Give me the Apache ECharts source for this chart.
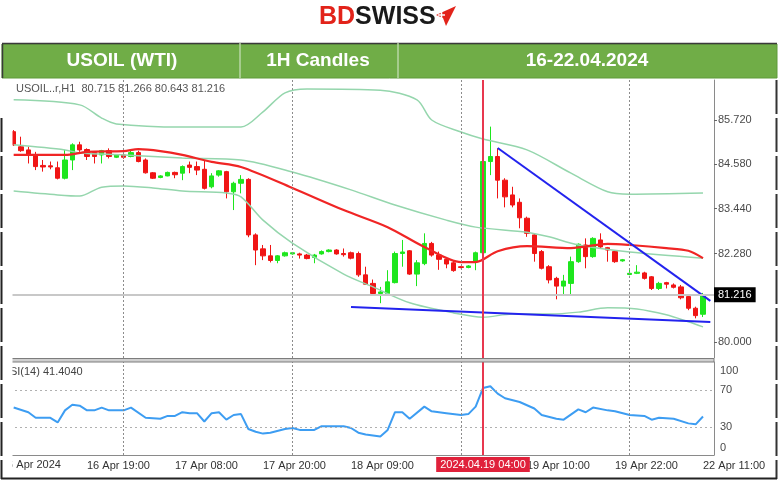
<!DOCTYPE html>
<html>
<head>
<meta charset="utf-8">
<title>USOIL (WTI) 1H Candles</title>
<script src="https://cdn.jsdelivr.net/npm/echarts@6/dist/echarts.min.js"></script>
<style>
  html, body { margin: 0; padding: 0; background: #fff; }
  #chart { width: 780px; height: 482px; }
</style>
</head>
<body>
<div id="chart"></div>
<script>
// trading sessions shown on the chart (date, first hour, last hour)
const tradingDays = [
  ['2024.04.16', 9, 23],
  ['2024.04.17', 1, 23],
  ['2024.04.18', 1, 23],
  ['2024.04.19', 1, 23],
  ['2024.04.22', 1, 11]
];

// hourly candles
const opens = [
  85.42, 85.03, 84.95, 84.82, 84.55, 84.54, 84.49, 84.22, 84.69, 85.08,
  84.96, 84.88, 84.82, 84.93, 84.76, 84.82, 84.78, 84.88, 84.69, 84.36,
  84.24, 84.28, 84.37, 84.35, 84.56, 84.52, 84.45, 84.00, 84.30, 84.39,
  83.87, 84.09, 84.19, 82.76, 82.40, 82.22, 82.10, 82.22, 82.27, 82.27,
  82.24, 82.18, 82.27, 82.33, 82.37, 82.28, 82.30, 82.28, 81.73, 81.51,
  81.25, 81.25, 81.53, 82.28, 82.35, 81.75, 82.02, 82.54, 82.24, 82.13,
  82.04, 81.94, 81.92, 82.07, 82.30, 84.65, 84.78, 84.17, 83.79, 83.60,
  83.19, 82.76, 82.33, 81.94, 81.64, 81.44, 81.51, 82.07, 82.50, 82.20,
  82.63, 82.43, 82.33, 82.09, 81.74, 81.77, 81.78, 81.68, 81.38, 81.53,
  81.47, 81.42, 81.17, 80.87, 80.715
];
const closes = [
  85.08, 84.93, 84.82, 84.52, 84.51, 84.51, 84.22, 84.69, 85.08, 84.95,
  84.78, 84.78, 84.93, 84.78, 84.82, 84.76, 84.88, 84.65, 84.36, 84.22,
  84.28, 84.37, 84.31, 84.52, 84.50, 84.43, 83.96, 84.28, 84.41, 83.87,
  84.09, 84.19, 82.76, 82.37, 82.22, 82.10, 82.22, 82.30, 82.30, 82.24,
  82.15, 82.24, 82.33, 82.37, 82.27, 82.25, 82.16, 81.73, 81.49, 81.25,
  81.29, 81.55, 82.28, 82.32, 81.75, 82.04, 82.54, 82.24, 82.13, 82.01,
  81.84, 81.92, 81.96, 82.30, 84.65, 84.78, 84.17, 83.74, 83.53, 83.20,
  82.80, 82.28, 81.90, 81.60, 81.44, 81.57, 82.07, 82.52, 82.20, 82.67,
  82.45, 82.37, 82.07, 82.12, 81.77, 81.80, 81.64, 81.38, 81.51, 81.49,
  81.41, 81.14, 80.87, 80.68, 81.216
];
const lows = [
  85.05, 84.90, 84.60, 84.43, 84.39, 84.45, 84.19, 84.19, 84.43, 84.90,
  84.69, 84.60, 84.60, 84.73, 84.74, 84.72, 84.76, 84.63, 84.34, 84.20,
  84.22, 84.27, 84.22, 84.17, 84.35, 84.30, 83.93, 83.96, 84.26, 83.70,
  83.40, 83.83, 82.70, 81.98, 82.11, 82.05, 82.03, 82.20, 82.25, 82.15,
  82.13, 82.03, 82.25, 82.31, 82.25, 82.20, 82.13, 81.68, 81.47, 81.21,
  81.00, 81.24, 81.51, 81.94, 81.73, 81.44, 81.98, 82.20, 81.86, 81.90,
  81.81, 81.90, 81.90, 81.85, 82.25, 84.30, 83.70, 83.47, 83.47, 82.93,
  82.71, 82.07, 81.87, 81.51, 81.10, 81.21, 81.21, 82.04, 81.90, 82.17,
  82.41, 82.07, 82.04, 82.07, 81.72, 81.75, 81.61, 81.34, 81.34, 81.38,
  81.38, 81.10, 80.82, 80.61, 80.643
];
const highs = [
  85.46, 85.29, 85.03, 84.90, 84.69, 84.65, 84.65, 84.95, 85.12, 85.16,
  84.99, 84.90, 84.95, 84.99, 84.83, 84.86, 84.93, 84.93, 84.73, 84.38,
  84.30, 84.39, 84.39, 84.55, 84.65, 84.65, 84.69, 84.35, 84.43, 84.41,
  84.13, 84.30, 84.22, 82.80, 82.50, 82.50, 82.24, 82.33, 82.32, 82.30,
  82.27, 82.27, 82.36, 82.39, 82.39, 82.41, 82.33, 82.33, 81.94, 81.61,
  81.42, 81.85, 82.33, 82.63, 82.37, 82.11, 82.80, 82.58, 82.33, 82.15,
  82.11, 81.96, 81.98, 82.33, 84.70, 85.55, 84.99, 84.22, 84.00, 83.70,
  83.23, 82.80, 82.37, 81.98, 81.68, 81.73, 82.20, 82.54, 82.67, 82.70,
  82.80, 82.45, 82.37, 82.14, 81.88, 81.98, 81.81, 81.70, 81.55, 81.55,
  81.51, 81.47, 81.21, 80.91, 81.266
];

// indicator lines, [bar index, price] points
const upperBand = [
  [0, 86.24], [9, 86.11], [12, 85.77], [14, 85.62], [23, 85.54], [31, 85.54],
  [34, 85.93], [37, 86.42], [40, 86.52], [50, 86.49], [55, 86.24], [57, 85.72],
  [61, 85.41], [64, 85.23], [70, 84.95], [76, 84.35], [81, 83.87], [84, 83.81], [94, 83.84]
];
const middleBand = [
  [0, 85.08], [7, 84.95], [9, 84.87], [15, 84.82], [23, 84.74], [31, 84.69],
  [38, 84.38], [46, 83.92], [52, 83.53], [59, 83.14], [63, 82.96], [70, 82.83],
  [73, 82.71], [77, 82.50], [84, 82.32], [94, 82.16]
];
const lowerBand = [
  [0, 83.89], [6, 83.79], [9, 83.76], [12, 83.99], [15, 84.02], [19, 83.97],
  [23, 83.89], [29, 83.84], [31, 83.74], [34, 83.14], [38, 82.55], [45, 81.75],
  [49, 81.42], [54, 81.01], [60, 80.75], [64, 80.64], [68, 80.72], [73, 80.72],
  [77, 80.77], [81, 80.88], [85, 80.85], [89, 80.70], [92, 80.52], [94, 80.39]
];
const movingAvg = [
  [0, 84.82], [7, 84.82], [10, 84.90], [15, 84.92], [17, 84.97], [20, 84.92],
  [23, 84.82], [27, 84.64], [31, 84.51], [38, 83.97], [45, 83.40], [51, 82.96],
  [56, 82.45], [61, 82.06], [63, 82.06], [66, 82.34], [70, 82.47], [76, 82.42],
  [81, 82.53], [84, 82.50], [89, 82.42], [92, 82.35], [94, 82.16]
];
const rsiPoints = [
  [0, 51], [2, 46], [3, 40], [5, 40], [6, 35], [7, 48], [8, 54], [9, 53], [10, 48],
  [11, 48], [12, 51], [13, 48], [15, 48], [16, 51], [18, 40], [20, 39], [21, 42],
  [22, 42], [23, 46], [24, 45], [25, 45], [26, 36], [27, 45], [28, 46], [29, 38],
  [30, 43], [31, 44], [32, 28], [33, 25], [34, 23], [35, 24], [37, 28], [38, 29],
  [39, 27], [41, 27], [42, 31], [45, 31], [46, 29], [47, 24], [48, 22], [50, 20],
  [51, 27], [52, 46], [53, 46], [54, 39], [56, 52], [57, 47], [59, 45], [61, 43],
  [62, 44], [63, 52], [64, 72], [65, 74], [66, 66], [67, 61], [69, 57], [71, 50],
  [72, 43], [74, 39], [75, 38], [77, 49], [78, 46], [79, 51], [81, 48], [82, 47],
  [84, 43], [86, 42], [87, 38], [88, 40], [90, 39], [92, 34], [93, 33], [94, 41.4]
];

// hand drawn trend lines
const resistanceLine = [[66, 85.00], [95, 81.06]];
const supportLine = [[46, 80.90], [95, 80.515]];

const priceTicks = [80.0, 82.28, 83.44, 84.58, 85.72];
const rsiTicks = [0, 30, 70, 100];
const timeTickIdx = [10, 22, 34, 46, 70, 82, 94];
const timeTickText = ['16 Apr 19:00', '17 Apr 08:00', '17 Apr 20:00', '18 Apr 09:00',
  '19 Apr 10:00', '19 Apr 22:00', '22 Apr 11:00'];
const separatorIdx = [15, 38, 61, 84];
const cursorIdx = 64;
const lastPrice = 81.216;

const cats = [];
tradingDays.forEach(function (d) {
  for (let h = d[1]; h <= d[2]; h++) cats.push(d[0] + ' ' + String(h).padStart(2, '0') + ':00');
});
cats.push('');

const candles = opens.map(function (o, i) { return [o, closes[i], lows[i], highs[i]]; });

const FONT = '"Liberation Sans", Arial, sans-serif';
const dotted = { color: '#8c8c8c', width: 1, type: [2, 2] };
const sepLines = separatorIdx.map(function (i) { return { xAxis: cats[i], lineStyle: dotted }; });

function bandSeries(data, color, width) {
  return {
    type: 'line', xAxisIndex: 0, yAxisIndex: 0, data: data,
    showSymbol: false, smooth: 0.3, silent: true,
    lineStyle: { color: color, width: width }
  };
}

const chart = echarts.init(document.getElementById('chart'));
chart.setOption({
  animation: false,
  backgroundColor: '#fff',
  grid: [
    { left: 10, right: 66, top: 80, height: 278 },
    { left: 10, right: 66, top: 362, height: 93 }
  ],
  xAxis: [
    { type: 'category', gridIndex: 0, data: cats,
      axisLine: { show: false }, axisTick: { show: false }, axisLabel: { show: false } },
    { type: 'category', gridIndex: 1, data: cats,
      axisLine: { lineStyle: { color: '#8a8a8a' } },
      axisTick: { alignWithLabel: true, length: 4, lineStyle: { color: '#666' },
        interval: function (i) { return timeTickIdx.indexOf(i) >= 0; } },
      axisLabel: {
        interval: function (i) { return timeTickIdx.indexOf(i) >= 0; },
        formatter: function (v, i) { return timeTickText[timeTickIdx.indexOf(i)] || ''; },
        align: 'left', margin: 5, color: '#333', fontSize: 11, fontFamily: FONT
      } }
  ],
  yAxis: [
    { type: 'value', gridIndex: 0, position: 'right', min: 79.588, max: 86.751,
      axisLine: { show: true, lineStyle: { color: '#8a8a8a' } },
      axisTick: { show: true, length: 3, customValues: priceTicks, lineStyle: { color: '#666' } },
      axisLabel: { customValues: priceTicks, formatter: function (v) { return v.toFixed(3); },
        color: '#4a4a4a', fontSize: 11, margin: 4, fontFamily: FONT },
      splitLine: { show: false } },
    { type: 'value', gridIndex: 1, position: 'right', min: 0, max: 100,
      axisLine: { show: true, lineStyle: { color: '#8a8a8a' } },
      axisTick: { show: false },
      axisLabel: { customValues: rsiTicks, margin: 6, color: '#4a4a4a', fontSize: 11, fontFamily: FONT,
        formatter: function (v) {
          if (v === 100) return '{t|100}';
          if (v === 0) return '{b|0}';
          return String(v);
        },
        rich: {
          t: { padding: [18, 0, 0, 0], color: '#4a4a4a', fontSize: 11, fontFamily: FONT },
          b: { padding: [0, 0, 14, 0], color: '#4a4a4a', fontSize: 11, fontFamily: FONT }
        } },
      splitLine: { show: false } }
  ],
  series: [
    {
      type: 'candlestick', xAxisIndex: 0, yAxisIndex: 0, data: candles, barWidth: 5,
      itemStyle: { color: '#1ee61e', color0: '#f01515', borderColor: '#1ee61e', borderColor0: '#f01515', borderWidth: 1 },
      markLine: {
        symbol: ['none', 'none'], silent: true, animation: false, label: { show: false },
        data: sepLines.concat([
          { yAxis: lastPrice, lineStyle: { color: '#c8c8c8', width: 2, type: 'solid' },
            label: { show: true, position: 'end', distance: 0, formatter: '81.216',
              backgroundColor: '#000', color: '#fff', padding: [2, 4], fontSize: 11, fontFamily: FONT } },
          { xAxis: cats[cursorIdx], lineStyle: { color: '#e8384f', width: 2, type: 'solid' } }
        ])
      }
    },
    bandSeries(upperBand, '#95d6ad', 1.5),
    bandSeries(middleBand, '#95d6ad', 1.5),
    bandSeries(lowerBand, '#95d6ad', 1.5),
    bandSeries(movingAvg, '#f02525', 2.2),
    { type: 'line', xAxisIndex: 0, yAxisIndex: 0, data: resistanceLine, showSymbol: false, silent: true,
      lineStyle: { color: '#2323ee', width: 2 } },
    { type: 'line', xAxisIndex: 0, yAxisIndex: 0, data: supportLine, showSymbol: false, silent: true,
      lineStyle: { color: '#2323ee', width: 2 } },
    {
      type: 'line', xAxisIndex: 1, yAxisIndex: 1, data: rsiPoints, showSymbol: false, silent: true,
      lineStyle: { color: '#3d9df2', width: 2 },
      markLine: {
        symbol: ['none', 'none'], silent: true, animation: false, label: { show: false },
        data: sepLines.concat([
          { yAxis: 70, lineStyle: { color: '#b0b0b0', width: 1, type: [2, 3] } },
          { yAxis: 30, lineStyle: { color: '#b0b0b0', width: 1, type: [2, 3] } },
          { xAxis: cats[cursorIdx], lineStyle: { color: '#e8384f', width: 2, type: 'solid' },
            label: { show: true, position: 'start', distance: 2, formatter: '2024.04.19 04:00',
              backgroundColor: '#e0213b', color: '#fff', padding: [2, 4], fontSize: 11, fontFamily: FONT } }
        ])
      }
    }
  ],
  graphic: [
    // logo
    { type: 'text', x: 319, y: 17, style: { text: '{bd|BD}{sw|SWISS}', verticalAlign: 'middle',
      rich: { bd: { fill: '#e2231a', font: 'bold 25px ' + FONT }, sw: { fill: '#1a1a1a', font: 'bold 25px ' + FONT } } } },
    { type: 'polygon', shape: { points: [[436, 15], [456, 6], [446, 26], [443, 18]] }, style: { fill: '#e2231a' } },
    { type: 'line', shape: { x1: 438, y1: 15, x2: 445, y2: 15 }, style: { stroke: '#fff', lineWidth: 1.5 } },
    { type: 'line', shape: { x1: 441.5, y1: 11.5, x2: 441.5, y2: 18.5 }, style: { stroke: '#fff', lineWidth: 1.5 } },
    // header bar
    { type: 'rect', shape: { x: 2, y: 44, width: 775, height: 34 }, style: { fill: '#70ad47', stroke: '#5e9a3a', lineWidth: 1 } },
    { type: 'line', shape: { x1: 2, y1: 43.5, x2: 777, y2: 43.5 }, style: { stroke: '#3a3a3a', lineWidth: 1.5 } },
    { type: 'line', shape: { x1: 2.5, y1: 44, x2: 2.5, y2: 78 }, style: { stroke: '#3a3a3a', lineWidth: 1.5 } },
    { type: 'line', shape: { x1: 240, y1: 43, x2: 240, y2: 78 }, style: { stroke: '#b9d7a5', lineWidth: 1.5 } },
    { type: 'line', shape: { x1: 398, y1: 43, x2: 398, y2: 78 }, style: { stroke: '#b9d7a5', lineWidth: 1.5 } },
    { type: 'text', x: 122, y: 61, style: { text: 'USOIL (WTI)', fill: '#fff', align: 'center', verticalAlign: 'middle',
      font: 'bold 19px "Liberation Sans Narrow", "Liberation Sans", Arial, sans-serif' } },
    { type: 'text', x: 318, y: 61, style: { text: '1H Candles', fill: '#fff', align: 'center', verticalAlign: 'middle',
      font: 'bold 19px "Liberation Sans Narrow", "Liberation Sans", Arial, sans-serif' } },
    { type: 'text', x: 587, y: 61, style: { text: '16-22.04.2024', fill: '#fff', align: 'center', verticalAlign: 'middle',
      font: 'bold 19px "Liberation Sans Narrow", "Liberation Sans", Arial, sans-serif' } },
    // chart captions
    { type: 'text', x: 16, y: 89, style: { text: 'USOIL..r,H1  80.715 81.266 80.643 81.216', fill: '#555',
      verticalAlign: 'middle', font: '11px ' + FONT } },
    { type: 'text', x: 2, y: 372, style: { text: 'RSI(14) 41.4040', fill: '#444', verticalAlign: 'middle', font: '11px ' + FONT } },
    { type: 'text', x: 1, y: 465, style: { text: '16 Apr 2024', fill: '#333', verticalAlign: 'middle', font: '11px ' + FONT } },
    // window edge that crops the terminal on the left
    { type: 'rect', z: 100, shape: { x: 0, y: 80, width: 12.5, height: 400 }, style: { fill: '#fff' } },
    // panel separator
    { type: 'rect', z: 50, shape: { x: 10, y: 358.5, width: 704, height: 3.5 }, style: { fill: '#cfcfcf', stroke: '#7d7d7d', lineWidth: 1 } },
    // screenshot frame
    { type: 'line', z: 101, shape: { x1: 1.5, y1: 118, x2: 1.5, y2: 479 }, style: { stroke: '#222', lineWidth: 2, lineDash: [34, 4] } },
    { type: 'line', z: 101, shape: { x1: 776.5, y1: 80, x2: 776.5, y2: 479 }, style: { stroke: '#333', lineWidth: 2, lineDash: [34, 4] } },
    { type: 'line', z: 101, shape: { x1: 1, y1: 478.5, x2: 777, y2: 478.5 }, style: { stroke: '#222', lineWidth: 2 } }
  ]
});
</script>
</body>
</html>
